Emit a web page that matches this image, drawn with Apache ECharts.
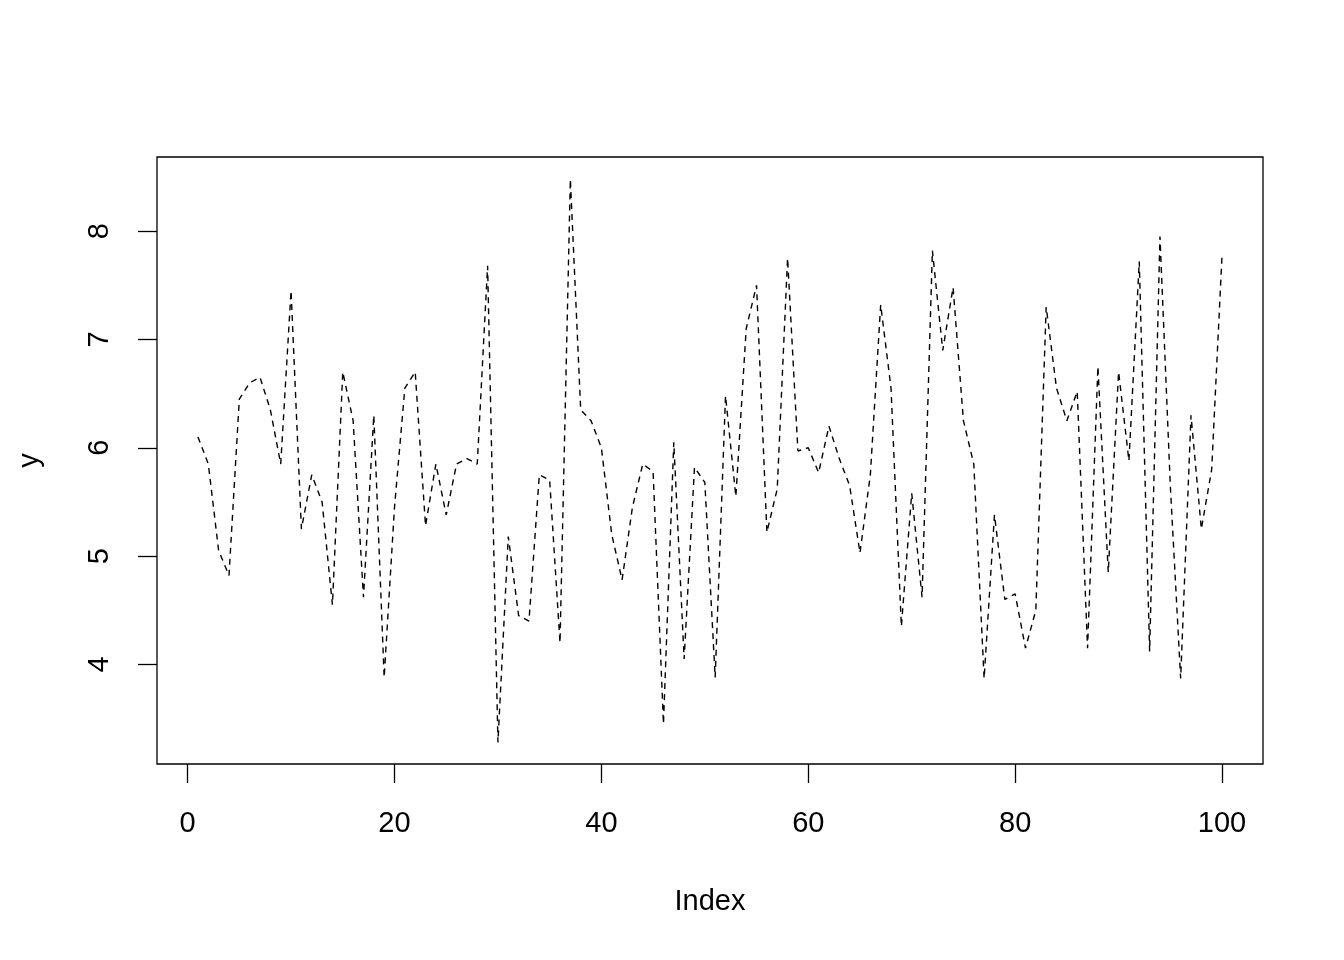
<!DOCTYPE html>
<html>
<head>
<meta charset="utf-8">
<script src="https://cdn.jsdelivr.net/npm/echarts@6/dist/echarts.min.js"></script>
<style>html,body{margin:0;padding:0;background:#fff;}#c{width:1344px;height:960px;}</style>
</head>
<body>
<div id="c"></div>
<script>
const index = Array.from({length: 100}, (_, i) => i + 1);
const yValues = [
  6.10, 5.85, 5.05, 4.82, 6.45, 6.60, 6.65, 6.35, 5.85, 7.45,
  5.25, 5.75, 5.50, 4.55, 6.70, 6.25, 4.62, 6.30, 3.88, 5.45,
  6.55, 6.70, 5.28, 5.85, 5.38, 5.85, 5.90, 5.85, 7.68, 3.28,
  5.18, 4.45, 4.40, 5.75, 5.70, 4.20, 8.48, 6.35, 6.25, 6.00,
  5.20, 4.78, 5.45, 5.85, 5.78, 3.45, 6.05, 4.05, 5.82, 5.68,
  3.88, 6.48, 5.55, 7.10, 7.50, 5.22, 5.62, 7.75, 5.97, 6.00,
  5.77, 6.20, 5.90, 5.65, 5.03, 5.75, 7.32, 6.55, 4.35, 5.58,
  4.62, 7.82, 6.90, 7.48, 6.25, 5.85, 3.87, 5.38, 4.60, 4.65,
  4.15, 4.50, 7.30, 6.55, 6.25, 6.52, 4.15, 6.75, 4.85, 6.70,
  5.88, 7.72, 4.12, 7.95, 5.65, 3.87, 6.30, 5.25, 5.80, 7.78
];
const xTicks = [0, 20, 40, 60, 80, 100];
const yTicks = [4, 5, 6, 7, 8];

const data = index.map((x, i) => [x, yValues[i]]);
const font = '"Liberation Sans", Arial, sans-serif';
const chart = echarts.init(document.getElementById('c'), null, {renderer: 'canvas'});
chart.setOption({
  animation: false,
  backgroundColor: '#fff',
  grid: {left: 157, right: 81, top: 157, bottom: 196, show: true, borderColor: '#000', borderWidth: 1.3, backgroundColor: 'transparent', containLabel: false, outerBoundsMode: 'none'},
  xAxis: {
    type: 'value', min: -2.96, max: 103.96,
    name: 'Index', nameLocation: 'middle', nameGap: 123,
    nameTextStyle: {fontFamily: font, fontSize: 29, color: '#000'},
    axisLine: {show: false, onZero: false},
    splitLine: {show: false},
    axisTick: {show: true, length: 19, inside: false, customValues: xTicks, lineStyle: {color: '#000', width: 1.3}},
    axisLabel: {show: true, customValues: xTicks, margin: 45, fontFamily: font, fontSize: 29, color: '#000'}
  },
  yAxis: {
    type: 'value', min: 3.08, max: 8.685,
    name: 'y', nameLocation: 'middle', nameGap: 113, nameRotate: 90,
    nameTextStyle: {fontFamily: font, fontSize: 29, color: '#000'},
    axisLine: {show: false, onZero: false},
    splitLine: {show: false},
    axisTick: {show: true, length: 19, inside: false, customValues: yTicks, lineStyle: {color: '#000', width: 1.3}},
    axisLabel: {show: true, customValues: yTicks, rotate: 90, margin: 57, fontFamily: font, fontSize: 29, color: '#000', align: 'center', verticalAlign: 'middle'}
  },
  series: [{
    type: 'line', data: data, showSymbol: false, symbol: 'none',
    lineStyle: {color: '#000', width: 1.4, type: [6, 5]},
    silent: true
  }]
});
</script>
</body>
</html>
